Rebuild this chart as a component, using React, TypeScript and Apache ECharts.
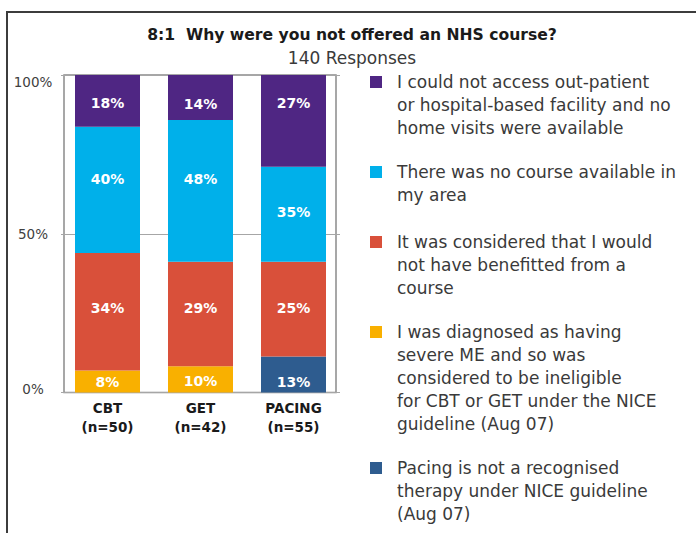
import React, { useEffect, useRef } from "react";
import * as echarts from "echarts";

// ---------- data ----------
const categories = ["CBT", "GET", "PACING"];
const sampleSizes = [50, 42, 55];

const noAccessLines = ["I could not access out-patient", "or hospital-based facility and no", "home visits were available"];
const noCourseLines = ["There was no course available in", "my area"];
const notBenefitLines = ["It was considered that I would", "not have benefitted from a", "course"];
const ineligibleLines = ["I was diagnosed as having", "severe ME and so was", "considered to be ineligible", "for CBT or GET under the NICE", "guideline (Aug 07)"];
const pacingLines = ["Pacing is not a recognised", "therapy under NICE guideline", "(Aug 07)"];

// segment heights as drawn (share of the 100% bar)
const ineligibleShare = [6.9, 8.3, null];
const pacingShare = [null, null, 11.3];
const notBenefitShare = [37.0, 32.9, 29.9];
const noCourseShare = [39.8, 44.6, 29.9];
const noAccessShare = [16.3, 14.2, 28.9];

// printed percentages
const ineligibleLabel = [8, 10, null];
const pacingLabel = [null, null, 13];
const notBenefitLabel = [34, 29, 25];
const noCourseLabel = [40, 48, 35];
const noAccessLabel = [18, 14, 27];

const yTicks = [0, 50, 100];

// ---------- style ----------
const FONT = "DejaVu Sans";
const COLORS = {
  noAccess: "#4f2683",
  noCourse: "#00b0ea",
  notBenefit: "#d9503a",
  ineligible: "#f9b000",
  pacing: "#2e5c8f",
};
// vertical nudges (px) of the value labels, matching where the reference prints them
const NUDGE = {
  ineligible: [0, 2, 0],
  pacing: [0, 0, 7],
  notBenefit: [-4, -6, -1],
  noCourse: [-11, -12, -2],
  noAccess: [2, 6, -18],
};

export default function App() {
  const ref = useRef<HTMLDivElement>(null);

  useEffect(() => {
    if (!ref.current) return;
    const chart = echarts.init(ref.current, undefined, { renderer: "svg" });

    const legendItems = [
      { lines: noAccessLines, color: COLORS.noAccess, c: 82 },
      { lines: noCourseLines, color: COLORS.noCourse, c: 172 },
      { lines: notBenefitLines, color: COLORS.notBenefit, c: 242 },
      { lines: ineligibleLines, color: COLORS.ineligible, c: 332 },
      { lines: pacingLines, color: COLORS.pacing, c: 468 },
    ];
    const LH = 23.1;

    const legends = legendItems.map((it) => {
      const n = it.lines.length;
      return {
        show: true,
        orient: "vertical",
        left: 370,
        top: it.c - ((2 * n - 1) * LH) / 2,
        padding: 0,
        itemWidth: 12,
        itemHeight: 12,
        itemGap: 0,
        selectedMode: false,
        data: [{ name: it.lines.join("\n"), icon: "rect" }],
        // leading blank lines keep the first text line level with the marker
        formatter: (name: string) => "\n".repeat(n - 1) + name,
        textStyle: {
          fontFamily: FONT,
          fontSize: 17,
          color: "#3a3a3a",
          lineHeight: LH,
          padding: [0, 0, 0, 10],
        },
      };
    });

    const mkSeries = (
      lines: string[],
      share: (number | null)[],
      labels: (number | null)[],
      color: string,
      nudge: number[]
    ) => ({
      name: lines.join("\n"),
      type: "bar",
      stack: "total",
      barWidth: 65,
      data: share.map((v, i) =>
        v == null ? "-" : { value: v, label: { offset: [0, nudge[i]] } }
      ),
      itemStyle: { color },
      label: {
        show: true,
        position: "inside",
        color: "#ffffff",
        fontFamily: FONT,
        fontWeight: "bold",
        fontSize: 14,
        formatter: (p: any) => (labels[p.dataIndex] == null ? "" : labels[p.dataIndex] + "%"),
      },
    });

    const series = [
      mkSeries(ineligibleLines, ineligibleShare, ineligibleLabel, COLORS.ineligible, NUDGE.ineligible),
      mkSeries(pacingLines, pacingShare, pacingLabel, COLORS.pacing, NUDGE.pacing),
      mkSeries(notBenefitLines, notBenefitShare, notBenefitLabel, COLORS.notBenefit, NUDGE.notBenefit),
      mkSeries(noCourseLines, noCourseShare, noCourseLabel, COLORS.noCourse, NUDGE.noCourse),
      mkSeries(noAccessLines, noAccessShare, noAccessLabel, COLORS.noAccess, NUDGE.noAccess),
    ];

    chart.setOption({
      animation: false,
      backgroundColor: "#ffffff",
      textStyle: { fontFamily: FONT },
      legend: legends,
      grid: {
        left: 61,
        right: 696 - 340,
        top: 75,
        bottom: 533 - 392.5,
        containLabel: false,
        outerBoundsMode: "none",
      },
      xAxis: {
        type: "category",
        data: categories.map((c, i) => c + "\n(n=" + sampleSizes[i] + ")"),
        axisLine: { show: false },
        axisTick: { show: false },
        axisLabel: {
          color: "#1a1a1a",
          fontFamily: FONT,
          fontWeight: "bold",
          fontSize: 13.5,
          lineHeight: 19,
          margin: 6,
        },
      },
      yAxis: {
        type: "value",
        min: yTicks[0],
        max: yTicks[yTicks.length - 1],
        interval: yTicks[1] - yTicks[0],
        axisLine: { show: false },
        axisTick: { show: false },
        splitLine: { lineStyle: { color: "#a6a6a6", width: 1 } },
        axisLabel: {
          align: "center",
          margin: 28,
          color: "#404040",
          fontFamily: FONT,
          fontSize: 13.5,
          formatter: (v: number) =>
            v === yTicks[yTicks.length - 1] ? "{t|" + v + "%}" : v === yTicks[0] ? "{b|" + v + "%}" : "{m|" + v + "%}",
          rich: {
            t: { padding: [14, 0, 0, 0], fontSize: 13.5, color: "#404040", fontFamily: FONT },
            b: { padding: [0, 0, 8, 0], fontSize: 13.5, color: "#404040", fontFamily: FONT },
            m: { fontSize: 13.5, color: "#404040", fontFamily: FONT },
          },
        },
      },
      graphic: [
        {
          type: "polyline",
          z: 100,
          shape: { points: [[7, 533], [7, 12], [696, 12]] },
          style: { stroke: "#3c3c3c", lineWidth: 2, fill: null },
        },
        {
          type: "rect",
          z: -1,
          shape: { x: 64, y: 75, width: 272, height: 317.5 },
          style: { stroke: "#8a8a8a", lineWidth: 1.5, fill: null },
        },
        {
          type: "text",
          x: 352,
          y: 35,
          style: {
            text: "8:1  Why were you not offered an NHS course?",
            textAlign: "center",
            textVerticalAlign: "middle",
            fontFamily: FONT,
            fontWeight: "bold",
            fontSize: 15.6,
            fill: "#1a1a1a",
          },
        },
        {
          type: "text",
          x: 352,
          y: 58,
          style: {
            text: "140 Responses",
            textAlign: "center",
            textVerticalAlign: "middle",
            fontFamily: FONT,
            fontSize: 17,
            fill: "#3a3a3a",
          },
        },
      ],
      series,
    });

    return () => chart.dispose();
  }, []);

  return (
    <div
      ref={ref}
      style={{ position: "fixed", left: 0, top: 0, width: 696, height: 533, background: "#fff" }}
    />
  );
}
